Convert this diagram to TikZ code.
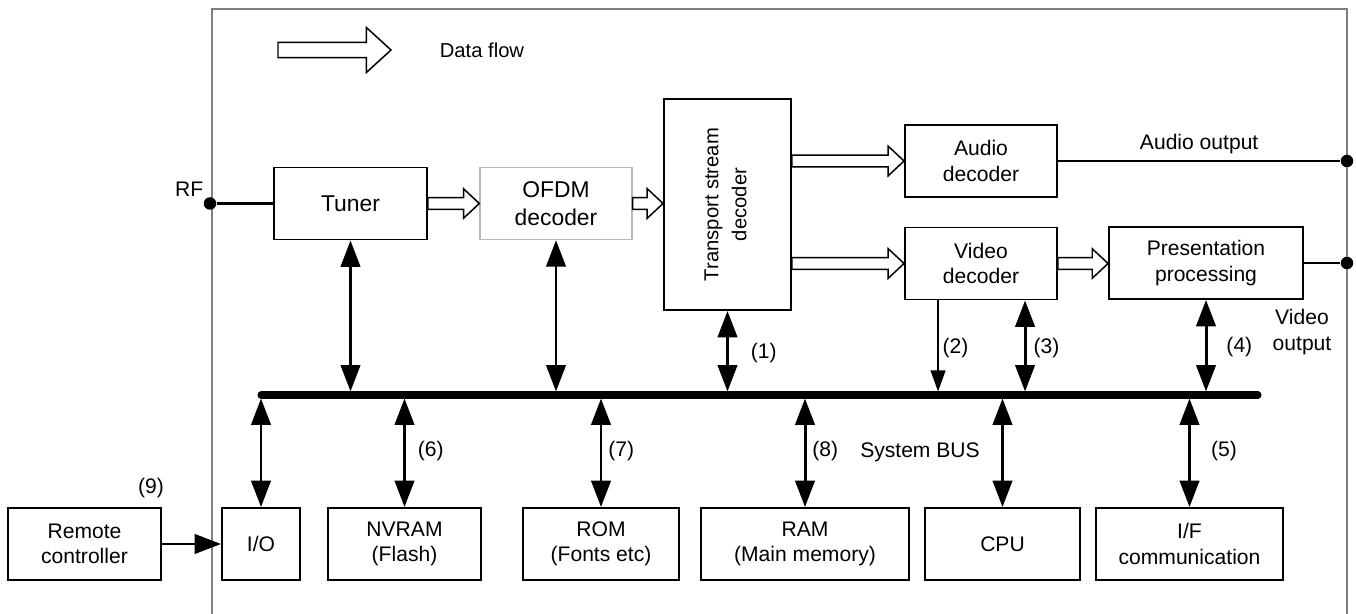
\documentclass[tikz,border=0pt]{standalone}
\usepackage{fontspec}
\setmainfont{Liberation Sans}
\usetikzlibrary{arrows.meta,calc}
\tikzset{
  blk/.style = {draw, line width=1.1pt, rectangle, minimum height=1.44cm, align=center, font=\fontsize{12}{14.4}\selectfont},
  big/.style = {font=\fontsize{13}{15.6}\selectfont},
  txt/.style = {align=center, font=\fontsize{12}{14.4}\selectfont},
  num/.style = {inner sep=0pt, anchor=west, font=\fontsize{12}{14.4}\selectfont},
  dot/.style = {circle, fill, inner sep=0pt, minimum size=0.25cm},
  wire/.style = {line width=1.2pt},
  frame/.style = {draw=gray, line width=0.6pt},
  bus/.style = {line width=4pt, line cap=round},
  bi/.style = {line width=1.7pt, {Triangle[length=15pt,width=11pt]}-{Triangle[length=15pt,width=11pt]}, shorten >=2pt},
  one/.style = {line width=0.7pt, -{Triangle[length=12pt,width=8.5pt]}, shorten >=2pt},
  push/.style = {line width=1.7pt, -{Triangle[length=15pt,width=11pt]}},
  flow/.style args = {#1/#2/#3}{draw, line width=0.85pt, fill=white, to path={
    let \p1=(\tikztostart), \p2=(\tikztotarget) in
    (\x1,\y1+#1) -- (\x2-#3,\y1+#1) -- (\x2-#3,\y1+#2) -- (\x2,\y1)
    -- (\x2-#3,\y1-#2) -- (\x2-#3,\y1-#1) -- (\x1,\y1-#1) -- cycle}},
  flow/.default = 3.4pt/8.4pt/9pt
}

\begin{document}
\begin{tikzpicture}[x=0.02cm, y=-0.02cm]
  \useasboundingbox (0,0) rectangle (1356,614);
  \draw[frame] (212,614) -- (212,9) -- (1347,9) -- (1347,614);

  % legend
  \coordinate (legA) at (278,50);
  \coordinate (legB) at (391,50);
  \draw[flow=4.3pt/12.8pt/14pt] (legA) to (legB);
  \node[txt, font=\fontsize{11.5}{14}\selectfont] (legtxt) at (482,50) {Data flow};

  % receiver chain
  \node[blk, big, minimum width=3.06cm] (tuner) at (350.5,203.5) {Tuner};
  \node[blk, big, draw=gray!55, line width=0.8pt, minimum width=3.04cm] (ofdm) at (556,203.5) {OFDM\\decoder};
  \node[blk, minimum width=2.54cm, minimum height=4.22cm, font=\fontsize{11.5}{14}\selectfont] (tsd) at (727.5,204.5)
    {\rotatebox{90}{\begin{tabular}{@{}c@{}}Transport stream\\[2pt]decoder\end{tabular}}};
  \node[blk, minimum width=3.04cm] (audio) at (981,161) {Audio\\decoder};
  \node[blk, minimum width=3.04cm] (video) at (981,263.5) {Video\\decoder};
  \node[blk, minimum width=3.88cm] (pres) at (1206,263) {Presentation\\processing};

  % memory and peripherals
  \node[blk, minimum width=3.06cm] (remote) at (84.5,544) {Remote\\controller};
  \node[blk, minimum width=1.56cm] (io) at (261,544) {I/O};
  \node[blk, minimum width=3.06cm] (nvram) at (404.5,544) {NVRAM\\(Flash)};
  \node[blk, minimum width=3.12cm] (rom) at (601,544) {ROM\\(Fonts etc)};
  \node[blk, minimum width=4.16cm] (ram) at (805,544) {RAM\\(Main memory)};
  \node[blk, minimum width=3.1cm] (cpu) at (1002.5,544) {CPU};
  \node[blk, minimum width=3.74cm] (iface) at (1189.5,544) {I/F\\communication};

  % terminals
  \node[dot] (rf) at (210,203.5) {};
  \node[dot] (aout) at (1347,161) {};
  \node[dot] (vout) at (1347,263) {};
  \node[txt, inner sep=1pt, above left] (rflbl) at (rf.north west) {RF};
  \node[txt] (voutlbl) at (1302,332) {Video\\output};

  \draw[wire] (rf) -- (tuner.west);
  \draw[wire] (audio.east) -- node[txt, above] (aoutlbl) {Audio output} (aout);
  \draw[wire] (pres.east) -- (vout);

  % data flow
  \draw[flow] (tuner.east) to (ofdm.west);
  \draw[flow] (ofdm.east) to (ofdm.east -| tsd.west);
  \draw[flow] (tsd.east |- audio.west) to (audio.west);
  \draw[flow] (tsd.east |- video.west) to (video.west);
  \draw[flow] (video.east) to (pres.west);

  % system bus
  \coordinate (busL) at (261,395);
  \coordinate (busR) at (1258,395);
  \coordinate (vd2) at ($(video.south west)+(34,0)$);
  \coordinate (vd3) at ($(video.south west)+(121,0)$);
  \draw[bus] (busL) -- (busR);
  \node[txt] (sysbus) at (920,452) {System BUS};

  \draw[bi] (tuner.south) -- (tuner.south |- busL);
  \draw[bi] (ofdm.south) -- (ofdm.south |- busL);
  \draw[bi] (tsd.south) -- node[num, xshift=12.5pt] {(1)} (tsd.south |- busL);
  \draw[one] (vd2) -- node[num, xshift=2.3pt] {(2)} (vd2 |- busL);
  \draw[bi] (vd3) -- node[num, xshift=4pt] {(3)} (vd3 |- busL);
  \draw[bi] (pres.south) -- node[num, xshift=10.8pt] {(4)} (pres.south |- busL);

  \draw[bi] (io.north) -- (io.north |- busL);
  \draw[bi] (nvram.north) -- node[num, xshift=6.8pt] {(6)} (nvram.north |- busL);
  \draw[bi] (rom.north) -- node[num, xshift=3.4pt] {(7)} (rom.north |- busL);
  \draw[bi] (ram.north) -- node[num, xshift=3.4pt] {(8)} (ram.north |- busL);
  \draw[bi] (cpu.north) -- (cpu.north |- busL);
  \draw[bi] (iface.north) -- node[num, xshift=11.4pt] {(5)} (iface.north |- busL);

  \draw[push] (remote.east) -- (io.west);
  \node[txt] (n9) at (151,488) {(9)};
\end{tikzpicture}
\end{document}
